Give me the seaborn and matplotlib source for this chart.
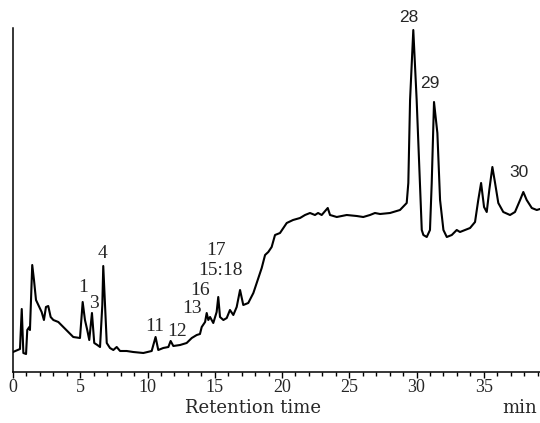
import matplotlib
matplotlib.use("Agg")
import matplotlib.pyplot as plt
from matplotlib.ticker import MultipleLocator
import seaborn as sns
import pandas as pd

# Chromatogram trace: retention time (min) and detector response (arbitrary units)
time_min = [
    0.00, 0.52, 0.65, 0.77, 0.97, 1.06, 1.21, 1.26, 1.43, 1.56, 1.71, 1.96, 2.13,
    2.30, 2.45, 2.62, 2.80, 3.00, 3.37, 3.74, 4.11, 4.48, 4.98, 5.18, 5.35, 5.52,
    5.67, 5.87, 6.04, 6.27, 6.47, 6.64, 6.71, 6.84, 6.97, 7.21, 7.46, 7.71, 7.96,
    8.45, 8.94, 9.69, 10.31, 10.60, 10.80, 11.17, 11.55, 11.72, 11.92, 12.42,
    12.91, 13.29, 13.66, 13.90, 14.03, 14.28, 14.40, 14.52, 14.65, 14.89, 15.14,
    15.26, 15.39, 15.64, 15.89, 16.13, 16.38, 16.63, 16.88, 17.12, 17.49, 17.87,
    18.12, 18.49, 18.74, 18.98, 19.23, 19.48, 19.85, 20.35, 20.82, 21.34, 21.71,
    22.08, 22.45, 22.68, 22.95, 23.40, 23.57, 24.07, 24.81, 25.55, 26.04, 26.54,
    26.91, 27.29, 28.03, 28.77, 29.27, 29.39, 29.52, 29.76, 30.01, 30.21, 30.39,
    30.51, 30.76, 31.00, 31.13, 31.30, 31.55, 31.75, 32.00, 32.25, 32.62, 32.99,
    33.23, 33.61, 33.98, 34.35, 34.59, 34.80, 35.02, 35.22, 35.41, 35.64, 35.84,
    36.08, 36.45, 36.95, 37.32, 37.70, 37.94, 38.19, 38.57, 38.94, 39.18,
]
response = [
    20, 23, 63, 19, 18, 42, 45, 42, 107, 92, 72, 65, 60,
    52, 65, 66, 55, 52, 50, 45, 40, 35, 34, 70, 52, 42,
    32, 59, 29, 27, 25, 67, 106, 67, 29, 24, 22, 25, 21,
    21, 20, 19, 21, 35, 22, 24, 25, 31, 26, 27,
    29, 34, 37, 38, 45, 50, 59, 52, 55, 49, 60,
    75, 55, 52, 54, 62, 57, 65, 82, 67, 69, 79,
    89, 104, 117, 120, 125, 137, 139, 149, 152, 154, 157,
    159, 157, 159, 157, 164, 157, 155, 157, 156, 155, 157,
    159, 158, 159, 162, 169, 189, 272, 342, 272, 205, 142,
    137, 135, 142, 189, 270, 239, 172, 142, 135, 137, 142,
    140, 142, 144, 150, 172, 189, 165, 160, 182, 205, 189,
    169, 160, 157, 160, 172, 180, 172, 164, 162, 163,
]

# Peak numbers and where they are written
serif_labels = ["1", "3", "4", "11", "12", "13", "16", "15:18", "17"]
serif_label_t = [5.18, 6.05, 6.67, 10.56, 12.17, 13.29, 13.90, 15.39, 15.09]
serif_label_y = [85, 69, 119, 46, 41, 64, 82, 102, 122]
sans_labels = ["28", "29", "30"]
sans_label_t = [29.39, 31.00, 37.64]
sans_label_y = [355, 289, 200]

major_ticks = [0, 5, 10, 15, 20, 25, 30, 35]

df = pd.DataFrame({"time": time_min, "response": response})

sns.set_style("white")
plt.rcParams["font.family"] = ["Liberation Serif", "DejaVu Serif"]

fig = plt.figure(figsize=(5.40, 4.23), dpi=100)
ax = fig.add_axes([13 / 540, 51 / 423, 527 / 540, 344 / 423])

sns.lineplot(data=df, x="time", y="response", ax=ax, color="black",
             linewidth=1.5, estimator=None, sort=False)

ax.set_xlim(0, 39.18)
ax.set_ylim(0, 344)

for side in ("top", "right"):
    ax.spines[side].set_visible(False)
for side in ("left", "bottom"):
    ax.spines[side].set_color("black")
    ax.spines[side].set_linewidth(1.1)

ax.set_yticks([])
ax.set_xticks(major_ticks)
ax.set_xticklabels([str(t) for t in major_ticks])
ax.xaxis.set_minor_locator(MultipleLocator(1))
ax.tick_params(axis="x", which="major", direction="out", length=4, width=1,
               color="black", labelsize=13, pad=1, bottom=True)
ax.tick_params(axis="x", which="minor", direction="out", length=3, width=1,
               color="black", bottom=True)
ax.set_xlabel("")
ax.set_ylabel("")

fig.text(253 / 540, 1 - 408 / 423, "Retention time", ha="center", va="center",
         fontsize=13, family="DejaVu Serif")
fig.text(520 / 540, 1 - 408 / 423, "min", ha="center", va="center",
         fontsize=13, family="DejaVu Serif")

for lab, t, y in zip(serif_labels, serif_label_t, serif_label_y):
    ax.text(t, y, lab, ha="center", va="center", fontsize=14,
            family="Liberation Serif", clip_on=False)
for lab, t, y in zip(sans_labels, sans_label_t, sans_label_y):
    ax.text(t, y, lab, ha="center", va="center", fontsize=12.5,
            family="Liberation Sans", clip_on=False)

fig.savefig("out.png", dpi=100, facecolor="white")
